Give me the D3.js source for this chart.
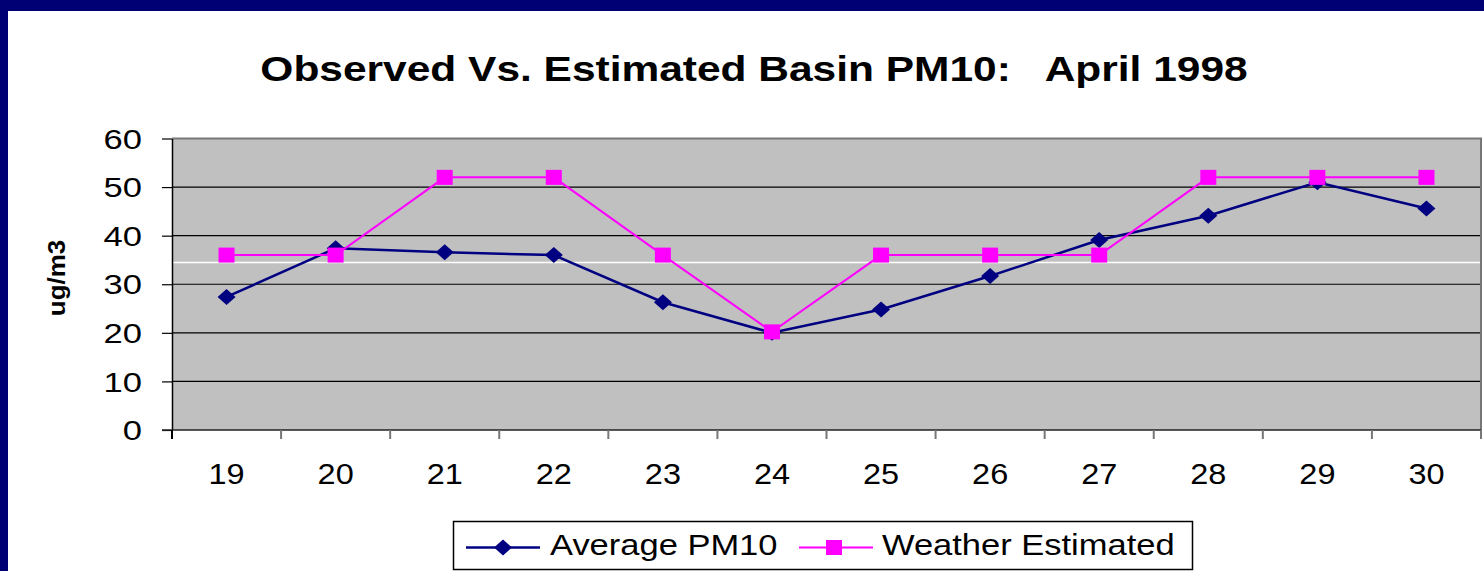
<!DOCTYPE html>
<html>
<head>
<meta charset="utf-8">
<script src="https://cdn.jsdelivr.net/npm/d3@7"></script>
<style>
  html, body { margin: 0; padding: 0; background: #fff; }
  svg { display: block; }
  text { font-family: Arial, "Liberation Sans", sans-serif; fill: #000; }
</style>
</head>
<body>
<div id="chart"></div>
<script>
// April 1998 basin PM10, days 19-30
var days = ["19", "20", "21", "22", "23", "24", "25", "26", "27", "28", "29", "30"];
var avgPM10 = [27.4, 37.4, 36.6, 36.0, 26.3, 20.0, 24.8, 31.7, 39.1, 44.1, 51.0, 45.6];
var weatherEst = [36, 36, 52, 52, 36, 20.2, 36, 36, 36, 52, 52, 52];
var yTicks = [0, 10, 20, 30, 40, 50, 60];
var whiteLine = 34.5;
var seriesNames = ["Average PM10", "Weather Estimated"];

var w = 1484;
var h = 571;

var svg = d3.select("#chart")
            .append("svg")
            .attr("width", w)
            .attr("height", h);

// slide frame
svg.append("rect").attr("x", 0).attr("y", 0).attr("width", w).attr("height", 11).attr("fill", "#000074");
svg.append("rect").attr("x", 0).attr("y", 0).attr("width", 8).attr("height", h).attr("fill", "#000074");

var pLeft = 172, pRight = 1481, pTop = 138.5, pBottom = 430;

var xscale = d3.scaleBand()
               .domain(days)
               .range([pLeft, pRight])
               .padding(0);

var yscale = d3.scaleLinear()
               .domain([0, 60])
               .range([pBottom, pTop]);

// title
svg.append("text")
   .attr("transform", "translate(754,81) scale(1.18,1)")
   .attr("text-anchor", "middle")
   .style("font-size", "36px")
   .style("font-weight", "bold")
   .style("white-space", "pre")
   .text("Observed Vs. Estimated Basin PM10:   April 1998");

// plot area
svg.append("rect")
   .attr("x", pLeft).attr("y", pTop)
   .attr("width", pRight - pLeft).attr("height", pBottom - pTop)
   .attr("fill", "#c0c0c0");

svg.selectAll(".grid")
   .data(yTicks.filter(function(d) { return d > 0 && d < 60; }))
   .enter()
   .append("line")
   .attr("x1", pLeft).attr("x2", pRight)
   .attr("y1", function(d) { return yscale(d); })
   .attr("y2", function(d) { return yscale(d); })
   .attr("stroke", "#000")
   .attr("stroke-width", 1.2);

svg.append("line")
   .attr("x1", pLeft).attr("x2", pRight)
   .attr("y1", yscale(whiteLine)).attr("y2", yscale(whiteLine))
   .attr("stroke", "#fff").attr("stroke-width", 1.5);

// top and right border
svg.append("line").attr("x1", pLeft).attr("x2", pRight + 1).attr("y1", pTop).attr("y2", pTop)
   .attr("stroke", "#777").attr("stroke-width", 2);
svg.append("line").attr("x1", pRight).attr("x2", pRight).attr("y1", pTop).attr("y2", pBottom)
   .attr("stroke", "#777").attr("stroke-width", 2);

// y axis
var yaxis = d3.axisLeft(yscale).tickValues(yTicks).tickSize(10).tickSizeOuter(0);
var gy = svg.append("g").attr("transform", "translate(" + pLeft + ",0)").call(yaxis);
gy.select(".domain").attr("stroke", "#000").attr("stroke-width", 1.5);
gy.selectAll(".tick line").attr("stroke", "#000").attr("stroke-width", 1.2);
gy.selectAll(".tick text")
  .attr("x", -30 / 1.28)
  .attr("dy", "0.36em")
  .attr("transform", "scale(1.28,1)")
  .style("font-size", "27px")
  .style("font-family", "Arial, 'Liberation Sans', sans-serif")
  .attr("fill", "#000");

// x axis (labels centred, ticks on category boundaries)
svg.append("line").attr("x1", pLeft - 10).attr("x2", pRight).attr("y1", pBottom).attr("y2", pBottom)
   .attr("stroke", "#222").attr("stroke-width", 1.5);

svg.selectAll(".xtick")
   .data(days)
   .enter()
   .append("line")
   .attr("x1", function(d) { return xscale(d); })
   .attr("x2", function(d) { return xscale(d); })
   .attr("y1", pBottom).attr("y2", pBottom + 9)
   .attr("stroke", function(d, i) { return i === 0 ? "#000" : "#777"; })
   .attr("stroke-width", 2);
svg.append("line").attr("x1", pRight).attr("x2", pRight).attr("y1", pBottom).attr("y2", pBottom + 9)
   .attr("stroke", "#777").attr("stroke-width", 2);

svg.selectAll(".xlab")
   .data(days)
   .enter()
   .append("text")
   .attr("transform", function(d) {
       return "translate(" + (xscale(d) + xscale.bandwidth() / 2) + ",484) scale(1.12,1)";
   })
   .attr("text-anchor", "middle")
   .style("font-size", "29px")
   .text(function(d) { return d; });

// y axis title
svg.append("text")
   .attr("transform", "translate(65,278) rotate(-90) scale(1.08,1)")
   .attr("text-anchor", "middle")
   .style("font-size", "24px")
   .style("font-weight", "bold")
   .text("ug/m3");

// series
var line = d3.line()
             .x(function(d, i) { return xscale(days[i]) + xscale.bandwidth() / 2; })
             .y(function(d) { return yscale(d); });

function diamond(g, cx, cy) {
    g.append("path")
     .attr("d", "M" + cx + "," + (cy - 8) + "L" + (cx + 9) + "," + cy + "L" + cx + "," + (cy + 8) + "L" + (cx - 9) + "," + cy + "Z")
     .attr("fill", "#000080");
}
function square(g, cx, cy) {
    g.append("rect")
     .attr("x", cx - 8).attr("y", cy - 7.5)
     .attr("width", 16).attr("height", 15)
     .attr("fill", "#ff00ff");
}

svg.append("path").datum(avgPM10).attr("d", line)
   .attr("fill", "none").attr("stroke", "#000080").attr("stroke-width", 2.5);
var gAvg = svg.append("g");
avgPM10.forEach(function(d, i) {
    diamond(gAvg, xscale(days[i]) + xscale.bandwidth() / 2, yscale(d));
});

svg.append("path").datum(weatherEst).attr("d", line)
   .attr("fill", "none").attr("stroke", "#ff00ff").attr("stroke-width", 2);
var gEst = svg.append("g");
weatherEst.forEach(function(d, i) {
    square(gEst, xscale(days[i]) + xscale.bandwidth() / 2, yscale(d));
});

// legend
var lg = svg.append("g");
lg.append("rect").attr("x", 453.5).attr("y", 521.5).attr("width", 739).attr("height", 48)
  .attr("fill", "#fff").attr("stroke", "#000").attr("stroke-width", 1.5);

lg.append("line").attr("x1", 466).attr("x2", 540).attr("y1", 547.5).attr("y2", 547.5)
  .attr("stroke", "#000080").attr("stroke-width", 2.5);
diamond(lg, 503, 547.5);
lg.append("text")
  .attr("transform", "translate(550,555) scale(1.15,1)")
  .style("font-size", "30px")
  .text(seriesNames[0]);

lg.append("line").attr("x1", 799).attr("x2", 873).attr("y1", 547.5).attr("y2", 547.5)
  .attr("stroke", "#ff00ff").attr("stroke-width", 2);
square(lg, 834, 547.5);
lg.append("text")
  .attr("transform", "translate(882,555) scale(1.15,1)")
  .style("font-size", "30px")
  .text(seriesNames[1]);
</script>
</body>
</html>
